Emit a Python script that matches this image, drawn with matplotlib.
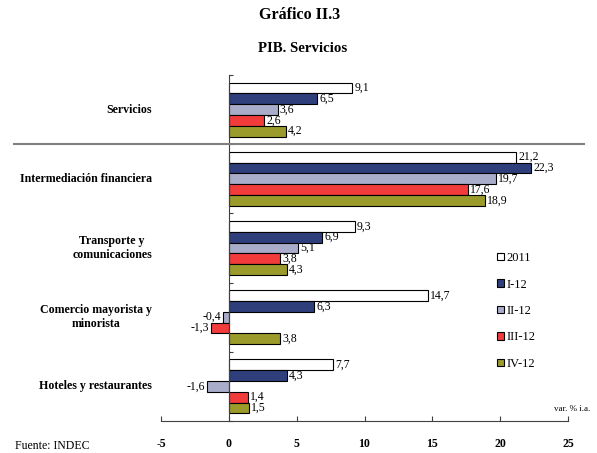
import matplotlib
matplotlib.use("Agg")
import matplotlib.pyplot as plt
import matplotlib.transforms as mtransforms
from matplotlib.lines import Line2D
from matplotlib.patches import Patch

plt.rcParams['font.family'] = ['Liberation Serif', 'DejaVu Serif']

categories = ["Servicios", "Intermediación financiera", "Transporte y\ncomunicaciones",
              "Comercio mayorista y\nminorista", "Hoteles y restaurantes"]
series_labels = ["2011", "I-12", "II-12", "III-12", "IV-12"]
values = {
    "2011":   [9.1, 21.2, 9.3, 14.7, 7.7],
    "I-12":   [6.5, 22.3, 6.9, 6.3, 4.3],
    "II-12":  [3.6, 19.7, 5.1, -0.4, -1.6],
    "III-12": [2.6, 17.6, 3.8, -1.3, 1.4],
    "IV-12":  [4.2, 18.9, 4.3, 3.8, 1.5],
}
colors = ["#FFFFFF", "#2E3F7C", "#AAADCA", "#F23C3C", "#9A9B2B"]
xticks = [-5, 0, 5, 10, 15, 20, 25]

W, H = 597, 453
fig = plt.figure(figsize=(W / 100, H / 100), dpi=100)
ax = fig.add_axes([161 / W, 1 - 421 / H, (568 - 161) / W, (421 - 75) / H])

bar_h = 0.156
for j, name in enumerate(series_labels):
    for i, v in enumerate(values[name]):
        y = i + 0.5 + (j - 2) * bar_h
        ax.barh(y, v, height=bar_h, color=colors[j], edgecolor="black", linewidth=0.8)
        txt = f"{v:.1f}".replace(".", ",")
        if v >= 0:
            ax.annotate(txt, (v, y), xytext=(1.5, 0), textcoords="offset points",
                        ha="left", va="center", fontsize=8.5)
        else:
            ax.annotate(txt, (v, y), xytext=(-1.5, 0), textcoords="offset points",
                        ha="right", va="center", fontsize=8.5)

ax.set_xlim(-5, 25)
ax.set_ylim(len(categories), 0)
ax.set_xticks(xticks)
ax.set_xticklabels([str(t) for t in xticks], fontweight="bold", fontsize=8.5)
ax.set_yticks(range(len(categories) + 1))
ax.set_yticklabels([])
ax.tick_params(axis="x", direction="in", length=3.5, pad=12, color="#404040")
ax.tick_params(axis="y", direction="in", length=3, color="#404040")

for s in ["top", "right"]:
    ax.spines[s].set_visible(False)
ax.spines["left"].set_position(("data", 0))
ax.spines["left"].set_color("#404040")
ax.spines["bottom"].set_color("#404040")

# category labels to the left of the plot
blend = mtransforms.blended_transform_factory(fig.transFigure, ax.transData)
for i, cat in enumerate(categories):
    ax.text(152 / W, i + 0.5, cat, transform=blend,
            ha="right", va="center", multialignment="center", fontsize=8.6, fontweight="bold")

# separator between the aggregate and its branches
fig.add_artist(Line2D([14 / W, 584 / W], [1, 1], transform=blend, color="#808080", linewidth=1.5))

handles = [Patch(facecolor=c, edgecolor="black", linewidth=0.8) for c in colors]
fig.legend(handles, series_labels, loc="upper left", bbox_to_anchor=(497 / W, 1 - 252 / H),
           frameon=False, fontsize=9, handlelength=0.55, handleheight=0.55,
           handletextpad=0.2, labelspacing=1.16, borderaxespad=0, borderpad=0)

fig.text(300 / W, 1 - 15 / H, "Gráfico II.3", ha="center", va="center", fontsize=11.5, fontweight="bold")
fig.text(303 / W, 1 - 48 / H, "PIB. Servicios", ha="center", va="center", fontsize=10.7, fontweight="bold")
fig.text(590 / W, 1 - 409 / H, "var. % i.a.", ha="right", va="center", fontsize=6.5)
fig.text(15 / W, 1 - 446 / H, "Fuente: INDEC", ha="left", va="center", fontsize=8.5)

fig.savefig("out.png", dpi=100)
